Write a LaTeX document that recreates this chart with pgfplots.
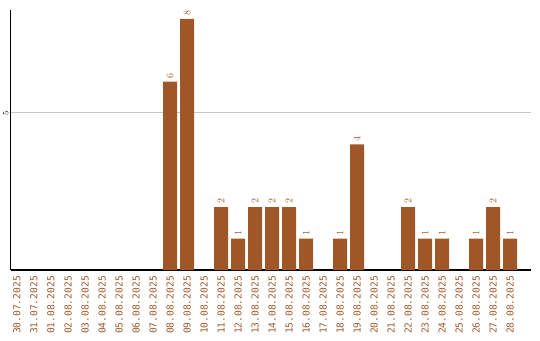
\documentclass[border=0pt]{standalone}
\usepackage{fontspec}
\setmainfont{Liberation Sans}
\newfontfamily\lmono{DejaVu Sans Mono}
\usepackage{pgfplots}
\pgfplotsset{compat=1.18}
\definecolor{barc}{RGB}{160,87,40}
\begin{document}
\begin{tikzpicture}[x=1pt,y=1pt]
\useasboundingbox (0,0) rectangle (540,340);
\begin{axis}[at={(10.5pt,70pt)}, anchor=south west, scale only axis,
  width=520pt, height=260pt,
  xmin=-0.382, xmax=30.2, ymin=0, ymax=8.28,
  axis x line*=bottom, axis y line*=left,
  axis line style={-, black, line width=1.1pt},
  xtick={0,...,29},
  xticklabels={30.07.2025,31.07.2025,01.08.2025,02.08.2025,03.08.2025,04.08.2025,05.08.2025,06.08.2025,07.08.2025,08.08.2025,09.08.2025,10.08.2025,11.08.2025,12.08.2025,13.08.2025,14.08.2025,15.08.2025,16.08.2025,17.08.2025,18.08.2025,19.08.2025,20.08.2025,21.08.2025,22.08.2025,23.08.2025,24.08.2025,25.08.2025,26.08.2025,27.08.2025,28.08.2025},
  x tick label style={rotate=90, anchor=east, inner sep=0pt, xshift=-6pt, font=\lmono\fontsize{9.6}{10}\selectfont, text=barc},
  major tick length=0pt,
  ytick={5}, ymajorgrids, grid style={black!22, line width=1pt},
  y tick label style={rotate=90, anchor=south, inner sep=0pt, yshift=2pt, font=\lmono\fontsize{8.5}{9}\selectfont, text=black},
  ybar, bar width=14pt, bar shift=0pt,
  nodes near coords,
  every node near coord/.append style={rotate=90, anchor=west, inner sep=0pt, xshift=3pt, font=\lmono\fontsize{9.6}{10}\selectfont, text=barc},
]
\addplot[fill=barc, draw=none] coordinates {
(9,6) (10,8) (12,2) (13,1) (14,2) (15,2) (16,2) (17,1) (19,1) (20,4) (23,2) (24,1) (25,1) (27,1) (28,2) (29,1)};
\end{axis}
\end{tikzpicture}
\end{document}
